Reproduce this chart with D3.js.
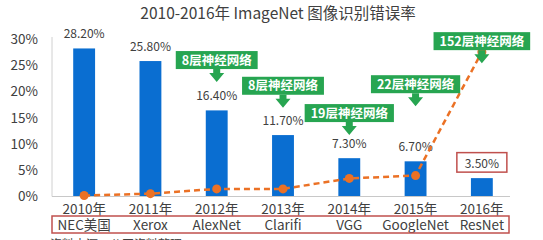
<!DOCTYPE html>
<html><head><meta charset="utf-8">
<script src="https://cdn.jsdelivr.net/npm/d3@7"></script>
<style>
html,body{margin:0;padding:0;background:#fff;overflow:hidden;}
svg{display:block;font-family:"Noto Sans CJK SC","Noto Sans",sans-serif;}
</style></head>
<body>
<svg id="c" width="543" height="240"></svg>
<script>
const years = ["2010年","2011年","2012年","2013年","2014年","2015年","2016年"];
const names = ["NEC美国","Xerox","AlexNet","Clarifi","VGG","GoogleNet","ResNet"];
const errorRate = [28.2, 25.8, 16.4, 11.7, 7.3, 6.7, 3.5];
const valueLabels = ["28.20%","25.80%","16.40%","11.70%","7.30%","6.70%","3.50%"];
const layers = [1, 3, 8, 8, 19, 22, 152];
const yTicks = [0, 5, 10, 15, 20, 25, 30];
const annotText = [null, null, "8层神经网络", "8层神经网络", "19层神经网络", "22层神经网络", "152层神经网络"];
const annotTip = [null, null, 21.8, 16.9, 11.7, 17.2, 25.4];
const title = "2010-2016年 ImageNet 图像识别错误率";
const source = "资料来源：公开资料整理";

const svg = d3.select("#c");
const blue = "#0a6ed1", orange = "#eb7125", green = "#27a551", red = "#c0504d", txt = "#404040";

const x = d3.scaleBand().domain(years).range([51, 515]).paddingInner(0.67).paddingOuter(0.335);
const y = d3.scaleLinear().domain([0, 30]).range([196.5, 39]);
const y2 = d3.scaleLinear().domain([0, 152]).range([196.5, 52]);
const cx = d => x(d) + x.bandwidth() / 2;

svg.append("text").attr("x", 278).attr("y", 19).attr("text-anchor", "middle")
  .attr("font-size", 15.5).attr("font-weight", 400).attr("fill", txt).text(title);

// y axis
const yAxis = d3.axisLeft(y).tickValues(yTicks).tickFormat(d => d + "%").tickSize(0).tickPadding(0);
const ga = svg.append("g").attr("transform", "translate(38,0)").call(yAxis);
ga.select(".domain").remove();
ga.selectAll("text").attr("font-size", 13.5).attr("fill", txt).attr("font-family", "Noto Sans CJK SC");
svg.append("line").attr("x1", 52).attr("x2", 52).attr("y1", 37).attr("y2", y(0)).attr("stroke", "#d0d0d0").attr("stroke-width", 1);

// bars
svg.selectAll("rect.bar").data(errorRate).join("rect").attr("class", "bar")
  .attr("x", (d, i) => x(years[i])).attr("width", x.bandwidth())
  .attr("y", d => y(d)).attr("height", d => y(0) - y(d)).attr("fill", blue);

svg.append("line").attr("x1", 52).attr("x2", 510).attr("y1", y(0)).attr("y2", y(0)).attr("stroke", "#c8c8c8").attr("stroke-width", 1);

// value labels
svg.selectAll("text.val").data(errorRate).join("text").attr("class", "val")
  .attr("x", (d, i) => cx(years[i])).attr("y", d => y(d) - 10)
  .attr("text-anchor", "middle").attr("font-size", 12).attr("fill", txt)
  .text((d, i) => valueLabels[i]);
// red box around last label
const li = errorRate.length - 1;
svg.append("rect").attr("x", cx(years[li]) - 25).attr("y", y(errorRate[li]) - 25.5)
  .attr("width", 50).attr("height", 19.5).attr("fill", "none").attr("stroke", red).attr("stroke-width", 1.5);

// x labels
const gx = d3.axisBottom(x).tickSize(0).tickPadding(0);
const gxa = svg.append("g").attr("transform", "translate(0,214)").call(gx);
gxa.select(".domain").remove();
gxa.selectAll("text").attr("font-size", 13.5).attr("fill", txt).attr("font-family", "Noto Sans CJK SC").attr("dy", null).attr("y", 0);
svg.selectAll("text.nm").data(names).join("text").attr("class", "nm")
  .attr("x", (d, i) => cx(years[i])).attr("y", 229.5).attr("text-anchor", "middle")
  .attr("font-size", 13.5).attr("fill", txt).text(d => d);
svg.append("rect").attr("x", 52).attr("y", 216).attr("width", 457).attr("height", 17)
  .attr("fill", "none").attr("stroke", red).attr("stroke-width", 1.5);

svg.append("text").attr("x", 50).attr("y", 249).attr("font-size", 12).attr("fill", txt).text(source);

// orange line
const line = d3.line().x((d, i) => cx(years[i])).y(d => y2(d));
svg.append("path").datum(layers).attr("d", line).attr("fill", "none").attr("stroke", orange)
  .attr("stroke-width", 2.5).attr("stroke-dasharray", "6,4");
svg.selectAll("circle.pt").data(layers).join("circle").attr("class", "pt")
  .attr("cx", (d, i) => cx(years[i])).attr("cy", d => y2(d)).attr("r", 4.5).attr("fill", orange);

// annotations
const boxH = 18, arrowL = 13;
annotText.forEach((t, i) => {
  if (!t) return;
  const xc = cx(years[i]);
  const tip = y(annotTip[i]);
  const bb = tip - arrowL;
  const g = svg.append("g");
  const tx = g.append("text").attr("x", xc).attr("y", bb - boxH / 2).attr("dy", "0.36em")
    .attr("text-anchor", "middle").attr("font-size", 12.5).attr("font-weight", 700).attr("fill", "#fff").text(t);
  const w = tx.node().getComputedTextLength() + 12;
  g.insert("rect", "text").attr("x", xc - w / 2).attr("y", bb - boxH).attr("width", w).attr("height", boxH).attr("fill", green);
  g.insert("path", "text").attr("d", `M${xc-3.5},${bb} L${xc+3.5},${bb} L${xc+3.5},${bb+4} L${xc+7.5},${bb+4} L${xc},${tip} L${xc-7.5},${bb+4} L${xc-3.5},${bb+4} Z`).attr("fill", green);
});
</script>
</body></html>
